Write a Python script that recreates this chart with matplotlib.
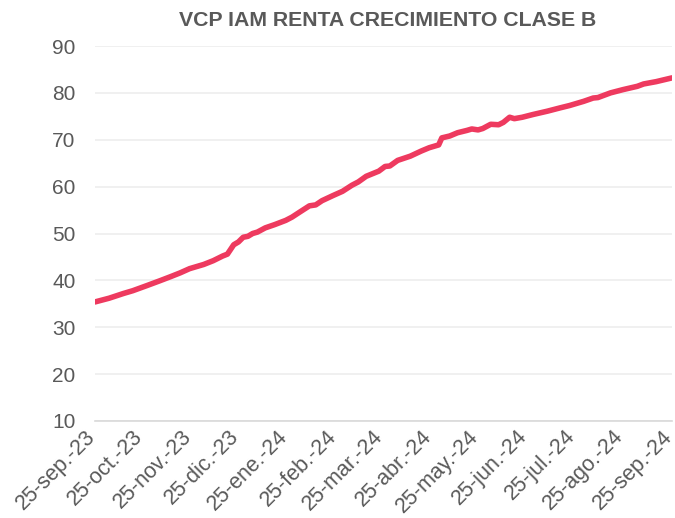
import numpy as np
import pandas as pd
import matplotlib
matplotlib.use("Agg")
import matplotlib.pyplot as plt
import matplotlib.transforms as mtransforms

plt.rcParams['font.family'] = ['Liberation Sans', 'DejaVu Sans']

# data
fechas = ["2023-09-25", "2023-10-04", "2023-10-13", "2023-10-19", "2023-10-28",
          "2023-11-05", "2023-11-12", "2023-11-18", "2023-11-24", "2023-12-03",
          "2023-12-09", "2023-12-15", "2023-12-18", "2023-12-22", "2023-12-25",
          "2023-12-28", "2023-12-31", "2024-01-03", "2024-01-06", "2024-01-11",
          "2024-01-17", "2024-01-24", "2024-01-28", "2024-02-02", "2024-02-08",
          "2024-02-12", "2024-02-16", "2024-02-23", "2024-02-29", "2024-03-06",
          "2024-03-10", "2024-03-15", "2024-03-23", "2024-03-27", "2024-03-30",
          "2024-04-04", "2024-04-12", "2024-04-19", "2024-04-24", "2024-04-30",
          "2024-05-02", "2024-05-07", "2024-05-12", "2024-05-18", "2024-05-21",
          "2024-05-25", "2024-05-28", "2024-06-02", "2024-06-07", "2024-06-10",
          "2024-06-14", "2024-06-17", "2024-06-22", "2024-06-29", "2024-07-08",
          "2024-07-16", "2024-07-22", "2024-07-31", "2024-08-06", "2024-08-09",
          "2024-08-17", "2024-08-25", "2024-09-03", "2024-09-07", "2024-09-15",
          "2024-09-25"]
valores = [35.4, 36.2, 37.2, 37.8, 38.9,
           39.9, 40.8, 41.6, 42.5, 43.4,
           44.2, 45.2, 45.6, 47.6, 48.2,
           49.2, 49.4, 50.0, 50.3, 51.2,
           51.9, 52.8, 53.5, 54.6, 55.9,
           56.1, 57.0, 58.1, 59.0, 60.3,
           61.0, 62.2, 63.3, 64.3, 64.4,
           65.6, 66.5, 67.6, 68.3, 68.9,
           70.4, 70.8, 71.5, 72.0, 72.3,
           72.1, 72.4, 73.3, 73.2, 73.7,
           74.8, 74.5, 74.8, 75.4, 76.1,
           76.8, 77.3, 78.2, 78.9, 79.0,
           80.0, 80.7, 81.4, 81.9, 82.4,
           83.2]

tick_fechas = ["2023-09-25", "2023-10-25", "2023-11-25", "2023-12-25", "2024-01-25",
               "2024-02-25", "2024-03-25", "2024-04-25", "2024-05-25", "2024-06-25",
               "2024-07-25", "2024-08-25", "2024-09-25"]
tick_labels = ["25-sep.-23", "25-oct.-23", "25-nov.-23", "25-dic.-23", "25-ene.-24",
               "25-feb.-24", "25-mar.-24", "25-abr.-24", "25-may.-24", "25-jun.-24",
               "25-jul.-24", "25-ago.-24", "25-sep.-24"]

x = pd.to_datetime(fechas)
xt = pd.to_datetime(tick_fechas)

fig = plt.figure(figsize=(6.75, 5.18), dpi=100)
ax = fig.add_axes([95 / 675, 1 - 421 / 518, 577 / 675, 375 / 518])

ax.plot(x, valores, color='#EE3A5F', lw=4.0, solid_capstyle='round', zorder=3)

ax.set_ylim(10, 90)
ax.set_yticks(range(10, 91, 10))
ax.set_xlim(xt[0], xt[-1])
ax.set_xticks(xt)
ax.set_xticklabels([])

# rotated date labels, nudged so their right ends sit on the ticks
trans = ax.get_xaxis_transform() + mtransforms.ScaledTranslation(
    -10 / 100, -5 / 100, fig.dpi_scale_trans)
for d, lab in zip(xt, tick_labels):
    ax.text(d, 0, lab, transform=trans, rotation=45, rotation_mode='anchor',
            ha='right', va='top', fontsize=15.5, color='#595959', clip_on=False)

ax.grid(axis='y', color='#EDEDED', lw=1.2, zorder=0)
ax.grid(axis='x', visible=False)
for s in ['top', 'right', 'left']:
    ax.spines[s].set_visible(False)
ax.spines['bottom'].set_color('#D9D9D9')
ax.spines['bottom'].set_linewidth(1.2)
ax.tick_params(axis='both', length=0, colors='#595959', labelsize=15)
ax.tick_params(axis='y', pad=14)

fig.text(388 / 675, 1 - 21 / 518, "VCP IAM RENTA CRECIMIENTO CLASE B",
         ha='center', va='center', fontsize=15.3, fontweight='bold', color='#595959')

fig.savefig("out.png", dpi=100)
